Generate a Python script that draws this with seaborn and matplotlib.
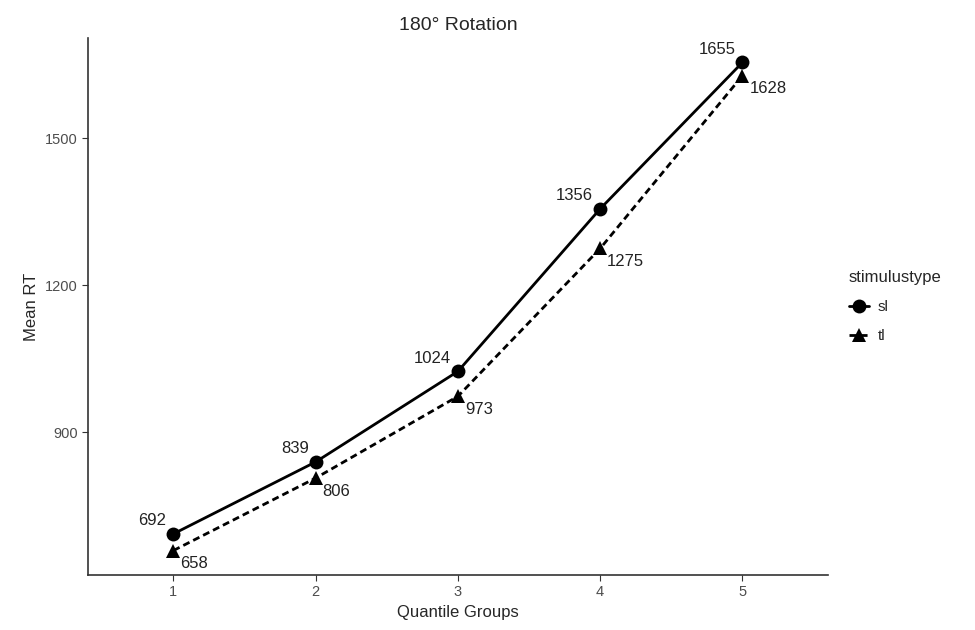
import seaborn as sns
import pandas as pd
import matplotlib.pyplot as plt

groups = [1, 2, 3, 4, 5]
sl_rt = [692, 839, 1024, 1356, 1655]
tl_rt = [658, 806, 973, 1275, 1628]

df = pd.DataFrame({
    'group': groups + groups,
    'rt': sl_rt + tl_rt,
    'stimulustype': ['sl'] * 5 + ['tl'] * 5,
})

sns.set_style('ticks')
plt.rcParams['font.family'] = ['Liberation Sans', 'DejaVu Sans']

fig = plt.figure(figsize=(9.75, 6.3), dpi=100)
ax = fig.add_axes([0.0903, 0.0873, 0.7587, 0.8524])

sns.lineplot(data=df, x='group', y='rt', style='stimulustype',
             markers={'sl': 'o', 'tl': '^'}, dashes={'sl': '', 'tl': (2.5, 1.5)},
             color='black', linewidth=2, markersize=10, markeredgewidth=0, ax=ax)

for x, y in zip(groups, sl_rt):
    ax.annotate(str(y), (x, y), xytext=(-5, 4), textcoords='offset points',
                ha='right', va='bottom', fontsize=12, color='#222222')
for x, y in zip(groups, tl_rt):
    ax.annotate(str(y), (x, y), xytext=(5, -4), textcoords='offset points',
                ha='left', va='top', fontsize=12, color='#222222')

ax.set_xlim(0.4, 5.6)
ax.set_ylim(608, 1705)
ax.set_xticks(groups)
ax.set_yticks([900, 1200, 1500])
ax.tick_params(colors='#333333', labelcolor='#4d4d4d', labelsize=10.5, length=4)
for s in ['left', 'bottom']:
    ax.spines[s].set_color('#333333')
    ax.spines[s].set_linewidth(1.2)
sns.despine(ax=ax)

ax.set_xlabel('Quantile Groups', fontsize=12)
ax.set_ylabel('Mean RT', fontsize=12)
ax.set_title('180° Rotation', fontsize=14)

leg = ax.legend(title='stimulustype', loc='center left', bbox_to_anchor=(1.01, 0.5),
                frameon=False, fontsize=11, title_fontsize=12, handlelength=1.3,
                handletextpad=0.6, labelspacing=1.0, alignment='left')

fig.savefig('out.png', dpi=100)
